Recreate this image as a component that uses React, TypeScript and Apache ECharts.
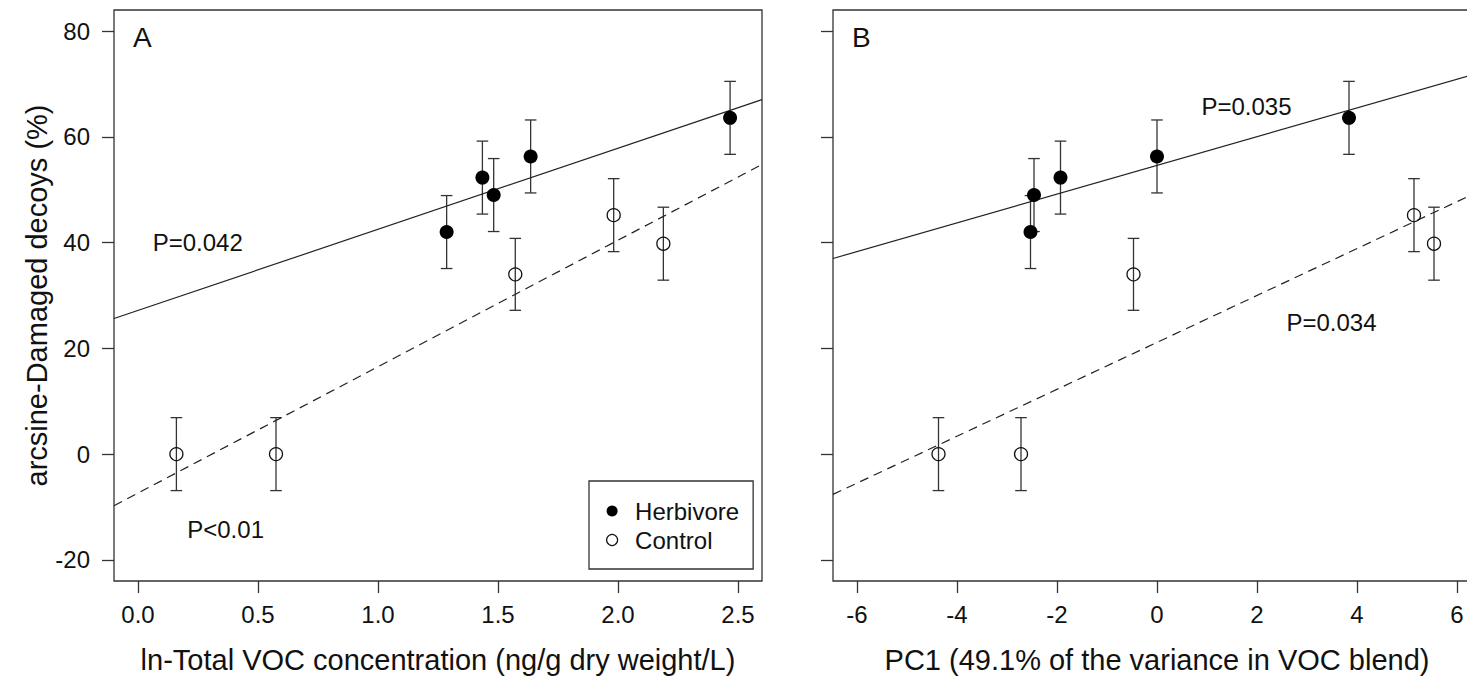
import React, { useEffect, useRef } from "react";
import * as echarts from "echarts";

// ---- data ----
const herbA_x = [1.286, 1.435, 1.482, 1.636, 2.467];
const herbA_y = [42.0, 52.3, 49.0, 56.3, 63.6];
const herbA_se = [6.9, 6.9, 6.9, 6.9, 6.9];
const ctrlA_x = [0.16, 0.575, 1.572, 1.982, 2.189];
const ctrlA_y = [0, 0, 34.0, 45.2, 39.8];
const ctrlA_se = [6.9, 6.9, 6.8, 6.9, 6.9];

const herbB_x = [-2.53, -2.46, -1.93, 0.0, 3.84];
const herbB_y = [42.0, 49.0, 52.3, 56.3, 63.6];
const herbB_se = [6.9, 6.9, 6.9, 6.9, 6.9];
const ctrlB_x = [-4.37, -2.72, -0.47, 5.14, 5.54];
const ctrlB_y = [0, 0, 34.0, 45.2, 39.8];
const ctrlB_se = [6.9, 6.9, 6.8, 6.9, 6.9];

// fitted lines (end points at the plot edges)
const herbLineA = [[-0.1, 25.65], [2.6, 67.05]];
const ctrlLineA = [[-0.1, -9.77], [2.6, 54.8]];
const herbLineB = [[-6.48, 37.0], [6.48, 72.2]];
const ctrlLineB = [[-6.48, -7.62], [6.48, 49.88]];

const xTicksA = [0, 0.5, 1.0, 1.5, 2.0, 2.5];
const xTicksB = [-6, -4, -2, 0, 2, 4, 6];
const yTicks = [-20, 0, 20, 40, 60, 80];

const annotA = [
  { name: "P=0.042", value: [0.249, 40.0] },
  { name: "P<0.01", value: [0.365, -14.2] },
];
const annotB = [
  { name: "P=0.035", value: [1.79, 65.8] },
  { name: "P=0.034", value: [3.49, 24.9] },
];

const FONT = '"Liberation Sans", Arial, Helvetica, sans-serif';
const INK = "#111";
const LINE = "#333";

function errData(xs: number[], ys: number[], se: number[]) {
  return xs.map((x, i) => [x, ys[i] - se[i], ys[i] + se[i]]);
}
function pts(xs: number[], ys: number[]) {
  return xs.map((x, i) => [x, ys[i]]);
}

const renderErr = (params: any, api: any) => {
  const x = api.value(0);
  const lo = api.coord([x, api.value(1)]);
  const hi = api.coord([x, api.value(2)]);
  const w = 5.8;
  const st = { stroke: LINE, lineWidth: 1.3 };
  return {
    type: "group",
    children: [
      { type: "line", shape: { x1: lo[0], y1: lo[1], x2: hi[0], y2: hi[1] }, style: st },
      { type: "line", shape: { x1: lo[0] - w, y1: lo[1], x2: lo[0] + w, y2: lo[1] }, style: st },
      { type: "line", shape: { x1: hi[0] - w, y1: hi[1], x2: hi[0] + w, y2: hi[1] }, style: st },
    ],
  };
};

export default function App() {
  const ref = useRef<HTMLDivElement>(null);
  useEffect(() => {
    if (!ref.current) return;
    const chart = echarts.init(ref.current, undefined, { renderer: "svg" });

    const xAxisBase = (min: number, max: number, ticks: number[], fmt: (v: number) => string) => ({
      type: "value",
      min,
      max,
      axisLine: { show: false, onZero: false },
      splitLine: { show: false },
      axisTick: { show: true, length: 12, inside: false, customValues: ticks, lineStyle: { color: LINE, width: 1.3 } },
      axisLabel: {
        show: true,
        customValues: ticks,
        formatter: fmt,
        margin: 21,
        color: INK,
        fontSize: 24,
        fontFamily: FONT,
      },
      nameLocation: "middle",
      nameGap: 64,
      nameTextStyle: { color: INK, fontSize: 29, fontFamily: FONT },
    });
    const yAxisBase = (showLabels: boolean) => ({
      type: "value",
      min: -24,
      max: 84,
      axisLine: { show: false, onZero: false },
      splitLine: { show: false },
      axisTick: { show: true, length: 12, inside: false, customValues: yTicks, lineStyle: { color: LINE, width: 1.3 } },
      axisLabel: {
        show: showLabels,
        customValues: yTicks,
        margin: 24,
        color: INK,
        fontSize: 24,
        fontFamily: FONT,
      },
      nameLocation: "middle",
      nameGap: 61,
      nameTextStyle: { color: INK, fontSize: 29, fontFamily: FONT },
    });

    const herbSym = { symbol: "circle", symbolSize: 14, itemStyle: { color: "#000", opacity: 1 } };
    const ctrlSym = {
      symbol: "circle",
      symbolSize: 13,
      itemStyle: { color: "rgba(0,0,0,0)", borderColor: "#111", borderWidth: 1.3, opacity: 1 },
    };
    const annotSeries = (idx: number, data: any[]) => ({
      type: "scatter",
      xAxisIndex: idx,
      yAxisIndex: idx,
      symbolSize: 1,
      silent: true,
      itemStyle: { color: "rgba(0,0,0,0)", opacity: 1 },
      label: {
        show: true,
        position: "inside",
        formatter: "{b}",
        color: INK,
        fontSize: 24,
        fontFamily: FONT,
      },
      data,
      z: 5,
    });

    chart.setOption({
      animation: false,
      backgroundColor: "#fff",
      grid: [
        { left: 114, top: 10, width: 648, height: 571, show: true, borderColor: LINE, borderWidth: 1.3, backgroundColor: "transparent" },
        { left: 833, top: 10, width: 648, height: 571, show: true, borderColor: LINE, borderWidth: 1.3, backgroundColor: "transparent" },
      ],
      xAxis: [
        { ...xAxisBase(-0.1, 2.6, xTicksA, (v: number) => v.toFixed(1)), gridIndex: 0, name: "ln-Total VOC concentration (ng/g dry weight/L)" },
        { ...xAxisBase(-6.48, 6.48, xTicksB, (v: number) => String(v)), gridIndex: 1, name: "PC1 (49.1% of the variance in VOC blend)" },
      ],
      yAxis: [
        { ...yAxisBase(true), gridIndex: 0, name: "arcsine-Damaged decoys (%)" },
        { ...yAxisBase(false), gridIndex: 1 },
      ],
      legend: {
        left: 589,
        top: 481,
        orient: "vertical",
        selectedMode: false,
        borderColor: LINE,
        borderWidth: 1.3,
        padding: [18, 14, 17, 17],
        itemWidth: 36,
        itemHeight: 11,
        itemGap: 5,
        textStyle: { color: INK, fontSize: 24, fontFamily: FONT, lineHeight: 24 },
        data: [
          { name: "Herbivore", icon: "circle", itemStyle: { color: "#000", borderWidth: 0, opacity: 1 } },
          { name: "Control", icon: "circle", itemStyle: { color: "#fff", borderColor: "#111", borderWidth: 1.2, opacity: 1 } },
        ],
      },
      graphic: [
        { type: "text", left: 133, top: 23, style: { text: "A", fontSize: 28, fontFamily: FONT, fill: INK } },
        { type: "text", left: 852, top: 23, style: { text: "B", fontSize: 28, fontFamily: FONT, fill: INK } },
      ],
      series: [
        // Panel A
        { type: "line", xAxisIndex: 0, yAxisIndex: 0, data: herbLineA, symbol: "none", lineStyle: { color: "#222", width: 1.2, type: "solid" }, silent: true },
        { type: "line", xAxisIndex: 0, yAxisIndex: 0, data: ctrlLineA, symbol: "none", lineStyle: { color: "#222", width: 1.2, type: [9, 6] }, silent: true },
        { type: "custom", xAxisIndex: 0, yAxisIndex: 0, renderItem: renderErr, data: errData(herbA_x, herbA_y, herbA_se), encode: { x: 0, y: [1, 2] }, silent: true },
        { type: "custom", xAxisIndex: 0, yAxisIndex: 0, renderItem: renderErr, data: errData(ctrlA_x, ctrlA_y, ctrlA_se), encode: { x: 0, y: [1, 2] }, silent: true },
        { name: "Herbivore", type: "scatter", xAxisIndex: 0, yAxisIndex: 0, data: pts(herbA_x, herbA_y), ...herbSym, z: 4 },
        { name: "Control", type: "scatter", xAxisIndex: 0, yAxisIndex: 0, data: pts(ctrlA_x, ctrlA_y), ...ctrlSym, z: 4 },
        annotSeries(0, annotA),
        // Panel B
        { type: "line", xAxisIndex: 1, yAxisIndex: 1, data: herbLineB, symbol: "none", lineStyle: { color: "#222", width: 1.2, type: "solid" }, silent: true },
        { type: "line", xAxisIndex: 1, yAxisIndex: 1, data: ctrlLineB, symbol: "none", lineStyle: { color: "#222", width: 1.2, type: [9, 6] }, silent: true },
        { type: "custom", xAxisIndex: 1, yAxisIndex: 1, renderItem: renderErr, data: errData(herbB_x, herbB_y, herbB_se), encode: { x: 0, y: [1, 2] }, silent: true },
        { type: "custom", xAxisIndex: 1, yAxisIndex: 1, renderItem: renderErr, data: errData(ctrlB_x, ctrlB_y, ctrlB_se), encode: { x: 0, y: [1, 2] }, silent: true },
        { name: "Herbivore", type: "scatter", xAxisIndex: 1, yAxisIndex: 1, data: pts(herbB_x, herbB_y), ...herbSym, z: 4 },
        { name: "Control", type: "scatter", xAxisIndex: 1, yAxisIndex: 1, data: pts(ctrlB_x, ctrlB_y), ...ctrlSym, z: 4 },
        annotSeries(1, annotB),
      ],
    });
    return () => chart.dispose();
  }, []);

  return (
    <div style={{ position: "fixed", left: 0, top: 0, width: 1467, height: 679, overflow: "hidden", background: "#fff" }}>
      <div ref={ref} style={{ width: 1500, height: 679 }} />
    </div>
  );
}
